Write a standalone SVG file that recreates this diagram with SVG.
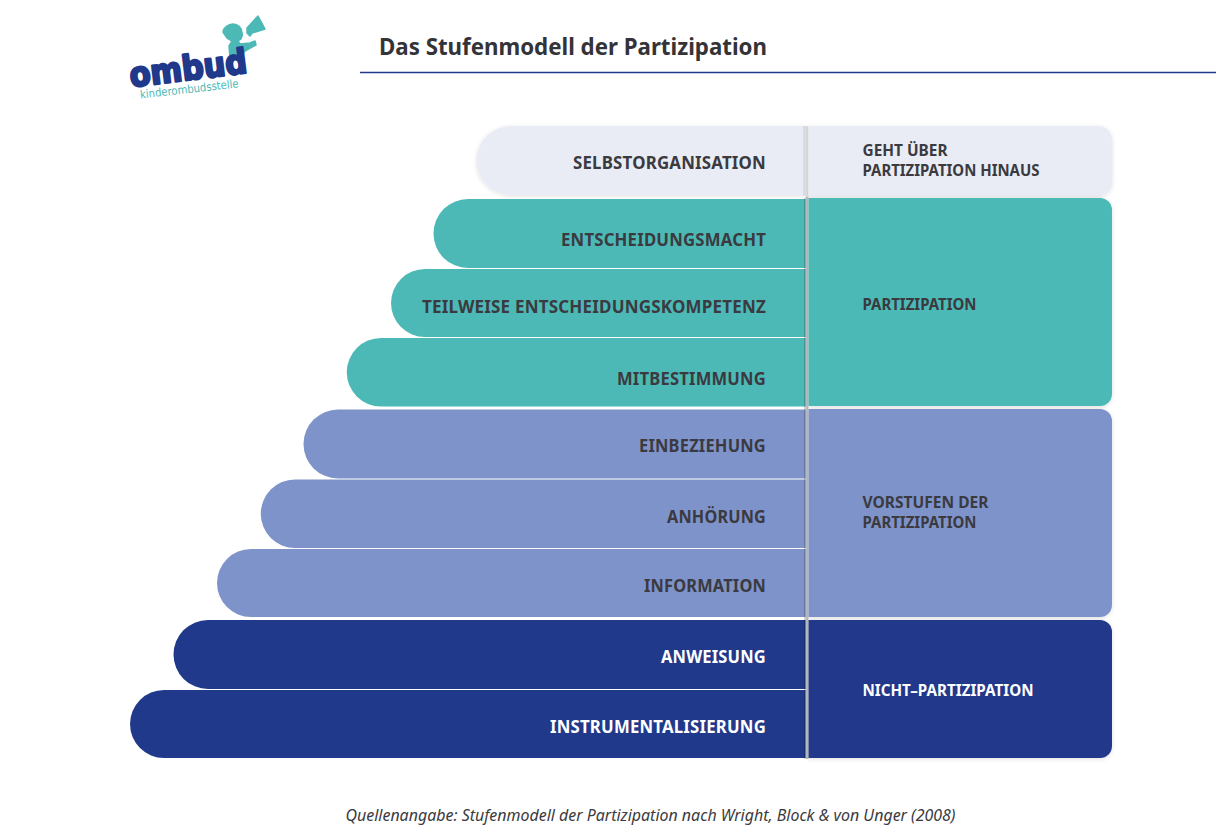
<svg xmlns="http://www.w3.org/2000/svg" width="1216" height="825" viewBox="0 0 1216 825">
<style>
text{font-family:"Noto Sans","Open Sans","Liberation Sans",sans-serif}
.l{font-size:17px;font-weight:700;text-anchor:end;letter-spacing:.2px}
.r{font-size:15.5px;font-weight:700;letter-spacing:0}
.dk{fill:#3a3a40}.wh{fill:#fff}
.a{fill:#e9ecf4}.b{fill:#4cb9b6}.c{fill:#7f93cb}.d{fill:#20398b}
.s{filter:url(#sh)}
.f{stroke:#4cb9b6;stroke-width:1.500;stroke-linejoin:round}
#logo text{font-family:"DejaVu Sans",sans-serif}
</style>
<defs><filter id="sh" x="-5%" y="-10%" width="110%" height="125%"><feDropShadow dx="0" dy="1" stdDeviation="2" flood-color="#000" flood-opacity=".13"/></filter></defs>
<rect width="1216" height="825" fill="#fff"/>
<g id="logo">
<path class="b f" d="M223 32C223 28 228 24 233 24C238 24 242 28 242 33C243 36 241 38 241 39L238 41L240 44L250 43L255 41L256 45L245 51L241 56L230 58L229 46L232 41L227 38Z"/>
<path class="b f" d="M247 28L258 16L265 29L252 33L250 36L247 33Z"/>
<text transform="translate(131 87) rotate(-7)" font-size="34" font-weight="700" fill="#20398b" stroke="#20398b" stroke-width="2.400" stroke-linejoin="round" textLength="118" lengthAdjust="spacingAndGlyphs">ombud</text>
<text transform="translate(140.500 98.500) rotate(-6.500)" font-size="11.500" fill="#4cb9b6" textLength="99" lengthAdjust="spacingAndGlyphs">kinderombudsstelle</text>
</g>
<g id="title">
<text x="379" y="55" font-size="24" font-weight="700" fill="#333338" textLength="388" lengthAdjust="spacingAndGlyphs">Das Stufenmodell der Partizipation</text>
</g>
<g id="connectors"><line x1="360" y1="72.500" x2="1216" y2="72.500" stroke="#20398b" stroke-width="1.500"/></g>
<g id="step-selbstorganisation"><path class="a s" d="M806 126H511a34.500 34.500 0 0 0 0 69H806z"/><text class="l dk" x="766" y="169" textLength="193" lengthAdjust="spacingAndGlyphs">SELBSTORGANISATION</text></g>
<g id="step-entscheidungsmacht"><path class="b" d="M806 199H468a34.500 34.500 0 0 0 0 69H806z"/><text class="l dk" x="766" y="246" textLength="205" lengthAdjust="spacingAndGlyphs">ENTSCHEIDUNGSMACHT</text></g>
<g id="step-teilweise"><path class="b" d="M806 269H425a34 34 0 0 0 0 68H806z"/><text class="l dk" x="766" y="313" textLength="344" lengthAdjust="spacingAndGlyphs">TEILWEISE ENTSCHEIDUNGSKOMPETENZ</text></g>
<g id="step-mitbestimmung"><path class="b" d="M806 338H381a34 34 0 0 0 0 68.500H806z"/><text class="l dk" x="766" y="385" textLength="149" lengthAdjust="spacingAndGlyphs">MITBESTIMMUNG</text></g>
<g id="step-einbeziehung"><path class="c" d="M806 409.500H338a34.500 34.500 0 0 0 0 69H806z"/><text class="l dk" x="766" y="452" textLength="127" lengthAdjust="spacingAndGlyphs">EINBEZIEHUNG</text></g>
<g id="step-anhoerung"><path class="c" d="M806 479.500H295a34 34 0 0 0 0 68.500H806z"/><text class="l dk" x="766" y="523" textLength="99" lengthAdjust="spacingAndGlyphs">ANHÖRUNG</text></g>
<g id="step-information"><path class="c" d="M806 549H251a34 34 0 0 0 0 68H806z"/><text class="l dk" x="766" y="592" textLength="122" lengthAdjust="spacingAndGlyphs">INFORMATION</text></g>
<g id="step-anweisung"><path class="d" d="M806 620H208a34.500 34.500 0 0 0 0 69H806z"/><text class="l wh" x="766" y="663" textLength="105" lengthAdjust="spacingAndGlyphs">ANWEISUNG</text></g>
<g id="step-instrumentalisierung"><path class="d" d="M806 690H164a34 34 0 0 0 0 68H806z"/><text class="l wh" x="766" y="733" textLength="216" lengthAdjust="spacingAndGlyphs">INSTRUMENTALISIERUNG</text></g>
<g id="divider"><rect x="804" y="198" width="1.500" height="561" fill="#000" opacity=".18"/><rect x="803" y="126" width="2.500" height="70" fill="#000" opacity=".07"/><rect x="805.500" y="126" width="3" height="71" fill="#dcdde1"/><rect x="805.500" y="197" width="3" height="562" fill="#b9bcc1"/></g>
<g id="group-hinaus"><path class="a s" d="M808.500 126H1098a14 14 0 0 1 14 14V182a14 14 0 0 1-14 14H808.500z"/><text class="r dk" x="862.500" y="155.500" textLength="85" lengthAdjust="spacingAndGlyphs">GEHT ÜBER</text><text class="r dk" x="862.500" y="175.500" textLength="177" lengthAdjust="spacingAndGlyphs">PARTIZIPATION HINAUS</text></g>
<g id="group-partizipation"><path class="b s" d="M808.500 198H1100a12 12 0 0 1 12 12V394a12 12 0 0 1-12 12H808.500z"/><text class="r dk" x="862.500" y="309.500" textLength="114" lengthAdjust="spacingAndGlyphs">PARTIZIPATION</text></g>
<g id="group-vorstufen"><path class="c s" d="M808.500 409H1100a12 12 0 0 1 12 12V605a12 12 0 0 1-12 12H808.500z"/><text class="r dk" x="862.500" y="507.500" textLength="126" lengthAdjust="spacingAndGlyphs">VORSTUFEN DER</text><text class="r dk" x="862.500" y="527.500" textLength="114" lengthAdjust="spacingAndGlyphs">PARTIZIPATION</text></g>
<g id="group-nicht"><path class="d s" d="M808.500 620H1100a12 12 0 0 1 12 12V746a12 12 0 0 1-12 12H808.500z"/><text class="r wh" x="862.500" y="695.500" textLength="171" lengthAdjust="spacingAndGlyphs">NICHT–PARTIZIPATION</text></g>
<g id="source"><text x="650.500" y="821" font-size="16" font-style="italic" fill="#3a3a40" text-anchor="middle" textLength="610" lengthAdjust="spacingAndGlyphs">Quellenangabe: Stufenmodell der Partizipation nach Wright, Block &amp; von Unger (2008)</text></g>
</svg>
